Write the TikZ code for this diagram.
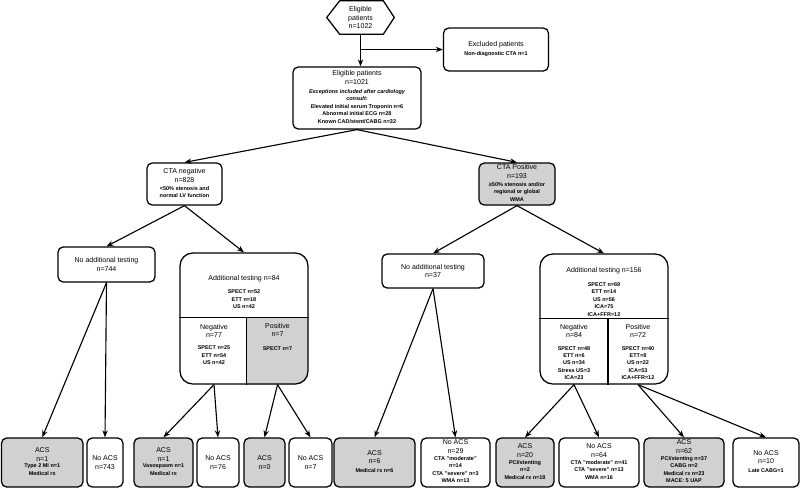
\documentclass[tikz,border=0pt]{standalone}
\usepackage{fontspec}
\setmainfont{Liberation Sans}
\usetikzlibrary{arrows.meta,calc,backgrounds}
\newcommand\ttl{\fontsize{5}{6.2}\selectfont}
\newcommand\dtl{\fontsize{3.9}{5.3}\selectfont\bfseries}
\newcommand\dtls[1]{{\dtl\begin{tabular}{@{}c@{}}#1\end{tabular}}}
\tikzset{
  frame/.style={draw=black, line width=0.9pt},
  box/.style={frame, rectangle, rounded corners=0.13cm, align=center, inner sep=0pt, font=\ttl, fill=white},
  acsbox/.style={box, fill=black!18},
  bigbox/.style={frame, rectangle, rounded corners=0.32cm, inner sep=0pt},
  txt/.style={align=center, inner sep=0pt, font=\ttl},
  arr/.style={-{Stealth[length=5pt,width=3.8pt]}, line width=0.8pt, draw=black},
  sz/.style 2 args={minimum width=#1*0.025cm, minimum height=#2*0.025cm}
}

\begin{document}
\begin{tikzpicture}[x=0.025cm, y=-0.025cm]
  \useasboundingbox (0,0) rectangle (800,488);

  % top of the chart
  \node[txt, sz={67}{33}] (hex) at (360.5,17.5) {Eligible\\patients\\n=1022};
  \draw[frame] (hex.west) -- ($(hex.north west)+(13,0)$) -- ($(hex.north east)+(-11,0)$)
    -- (hex.east) -- ($(hex.south east)+(-11,0)$) -- ($(hex.south west)+(13,0)$) -- cycle;
  \node[box, sz={105}{43}] (excl) at (496,49.5) {Excluded patients\\[1pt]\dtls{Non-diagnostic CTA n=1}};
  \node[box, sz={128}{62}] (elig) at (357,98) {Eligible patients\\n=1021\\[1.5pt]\dtls{\itshape Exceptions included after cardiology\\\itshape consult:\\Elevated initial serum Troponin n=6\\Abnormal initial ECG n=28\\Known CAD/stent/CABG n=32}};
  \coordinate (xsplit) at (hex.south |- excl.west);
  \draw[arr] (hex.south) -- (hex.south |- elig.north);
  \draw[arr] (xsplit) -- (excl.west);

  % cta result
  \node[box, sz={75}{42}] (ctaneg) at (184.5,184) {CTA negative\\n=828\\[1pt]\dtls{<50\% stenosis and\\normal LV function}};
  \node[acsbox, sz={76}{42}] (ctapos) at (517,184) {CTA Positive\\n=193\\[1pt]\dtls{≥50\% stenosis and/or\\regional or global\\WMA}};
  \draw[arr] (elig.south) -- (ctaneg.north);
  \draw[arr] (elig.south) -- (ctapos.north);

  % further testing
  \node[box, sz={97}{35}] (noadd744) at (106.5,264.5) {No additional testing\\n=744};
  \node[box, sz={102}{34}] (noadd37) at (433,271) {No additional testing\\n=37};
  \node[bigbox, sz={128}{131}] (add84) at (244,318.5) {};
  \node[bigbox, sz={128}{130}] (add156) at (604,319) {};
  \draw[arr] (ctaneg.south) -- (noadd744.north);
  \draw[arr] (ctaneg.south) -- (add84.north);
  \draw[arr] (ctapos.south) -- (noadd37.north);
  \draw[arr] (ctapos.south) -- (add156.north);

  \coordinate (add84l) at ($(add84.north west)!0.49!(add84.south west)$);
  \coordinate (add84r) at ($(add84.north east)!0.49!(add84.south east)$);
  \coordinate (add84m) at ($(add84l)!0.52!(add84r)$);
  \coordinate (add156l) at ($(add156.north west)!0.495!(add156.south west)$);
  \coordinate (add156r) at ($(add156.north east)!0.495!(add156.south east)$);
  \coordinate (add156m) at ($(add156l)!0.53!(add156r)$);
  \begin{scope}[on background layer]
    \clip[rounded corners=0.32cm] (add84.north west) rectangle (add84.south east);
    \fill[black!18] (add84m) rectangle (add84.south east);
  \end{scope}
  \begin{scope}[on background layer]
    \clip[rounded corners=0.32cm] (add156.north west) rectangle (add156.south east);
    \fill[black!18] (add156m) rectangle (add156.south east);
  \end{scope}
  \draw[frame] (add84l) -- (add84r);
  \draw[frame] (add84m) -- (add84m |- add84.south);
  \draw[frame] (add156l) -- (add156r);
  \draw[frame] (add156m) -- (add156m |- add156.south);

  \node[txt] (add84t) at (244,293) {Additional testing n=84\\[4pt]\dtls{SPECT n=52\\ETT n=18\\US n=42}};
  \node[txt] (add84n) at (214,345.5) {Negative\\n=77\\[4pt]\dtls{SPECT n=25\\ETT n=54\\US n=42}};
  \node[txt] (add84p) at (277.5,338) {Positive\\n=7\\[4pt]\dtls{SPECT n=7}};
  \node[txt] (add156t) at (604,293) {Additional testing n=156\\[4pt]\dtls{SPECT n=69\\ETT n=14\\US n=56\\ICA=75\\ICA+FFR=12}};
  \node[txt] (add156n) at (574,353) {Negative\\n=84\\[4pt]\dtls{SPECT n=48\\ETT n=6\\US n=34\\Stress US=3\\ICA=23}};
  \node[txt] (add156p) at (638,353) {Positive\\n=72\\[4pt]\dtls{SPECT n=40\\ETT=8\\US n=22\\ICA=53\\ICA+FFR=12}};

  % outcomes
  \node[acsbox, sz={81.5}{49}] (b1) at (42.25,462.5) {ACS\\n=1\\\dtls{Type 2 MI n=1\\Medical rx}};
  \node[box, sz={36}{49}] (b2) at (105,462.5) {No ACS\\n=743};
  \node[acsbox, sz={59}{49}] (b3) at (163.5,462.5) {ACS\\n=1\\\dtls{Vasospasm n=1\\Medical rx}};
  \node[box, sz={42}{49}] (b4) at (218,462.5) {No ACS\\n=76};
  \node[acsbox, sz={41}{49}] (b5) at (264.5,462.5) {ACS\\n=0};
  \node[box, sz={43}{49}] (b6) at (310.5,462.5) {No ACS\\n=7};
  \node[acsbox, sz={81}{49}] (b7) at (374.5,462.5) {ACS\\n=6\\\dtls{Medical rx n=6}};
  \node[box, sz={69}{49}] (b8) at (455.5,462.5) {No ACS\\n=29\\\dtls{CTA "moderate"\\n=14\\CTA "severe" n=3\\WMA n=13}};
  \node[acsbox, sz={58}{49}] (b9) at (525,462.5) {ACS\\n=20\\\dtls{PCI/stenting\\n=2\\Medical rx n=18}};
  \node[box, sz={80}{49}] (b10) at (599,462.5) {No ACS\\n=64\\\dtls{CTA "moderate" n=41\\CTA "severe" n=13\\WMA n=16}};
  \node[acsbox, sz={80}{49}] (b11) at (684,462.5) {ACS\\n=62\\\dtls{PCI/stenting n=37\\CABG n=2\\Medical rx n=23\\MACE: 5 UAP}};
  \node[box, sz={66}{49}] (b12) at (766,462.5) {No ACS\\n=10\\\dtls{Late CABG=1}};

  \draw[arr] (noadd744.south) -- (b1.north);
  \draw[arr] (noadd744.south) -- (b2.north);
  \draw[arr] (add84n |- add84.south) -- (b3.north);
  \draw[arr] (add84n |- add84.south) -- (b4.north);
  \draw[arr] (add84p |- add84.south) -- (b5.north);
  \draw[arr] (add84p |- add84.south) -- (b6.north);
  \draw[arr] (noadd37.south) -- (b7.north);
  \draw[arr] (noadd37.south) -- (b8.north);
  \draw[arr] (add156n |- add156.south) -- (b9.north);
  \draw[arr] (add156n |- add156.south) -- (b10.north);
  \draw[arr] (add156p |- add156.south) -- (b11.north);
  \draw[arr] (add156p |- add156.south) -- (b12.north);
\end{tikzpicture}
\end{document}
